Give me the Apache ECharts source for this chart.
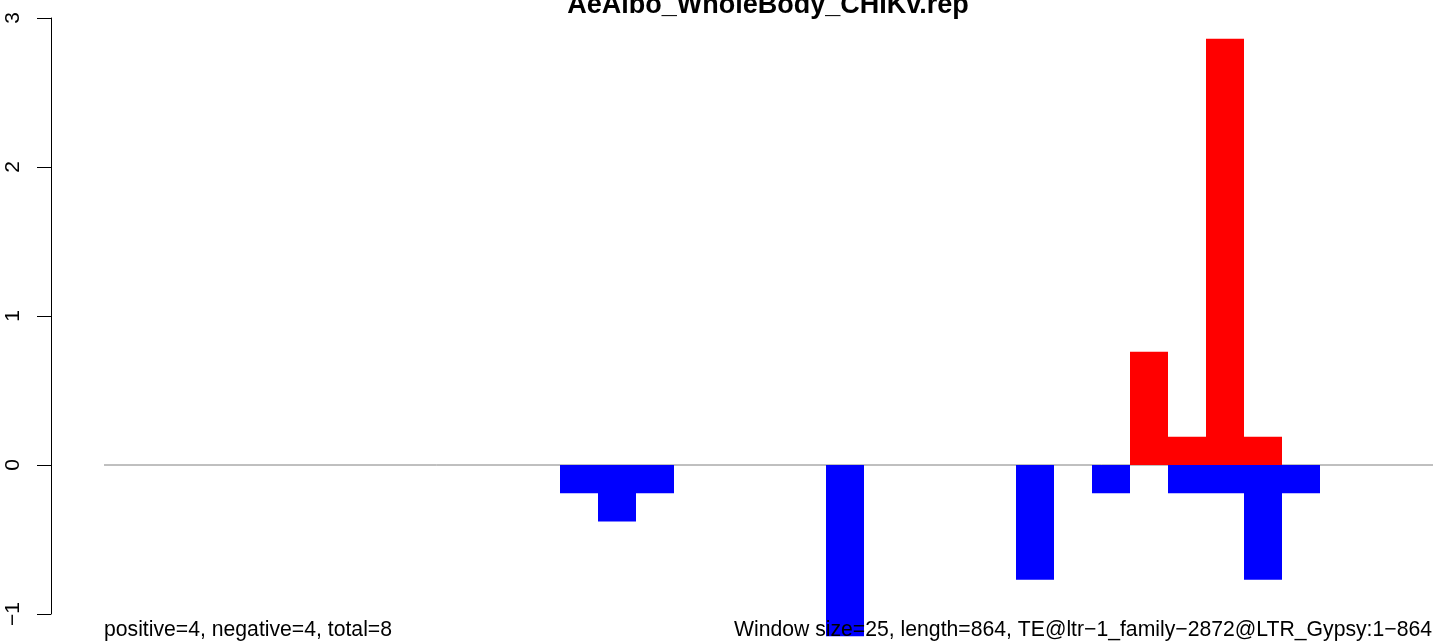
<!DOCTYPE html>
<html><head><meta charset="utf-8">
<script src="https://cdn.jsdelivr.net/npm/echarts@6/dist/echarts.min.js"></script>
<style>html,body{margin:0;padding:0;background:#fff}#c{width:1433px;height:641px}</style>
</head><body><div id="c"></div>
<script>
// window indices (window size 25, length 864 -> 35 windows)
const nWindows = 35;
const posIdx = [27, 28, 29, 30];
const posVal = [0.76, 0.19, 2.86, 0.19];
const negIdx = [12, 13, 14, 19, 24, 26, 28, 29, 30, 31];
const negVal = [-0.19, -0.38, -0.19, -1.15, -0.77, -0.19, -0.19, -0.19, -0.77, -0.19];
const yTicks = [-1, 0, 1, 2, 3];
const titleText = 'AeAlbo_WholeBody_CHIKv.rep';
const leftNote = 'positive=4, negative=4, total=8';
const rightNote = 'Window size=25, length=864, TE@ltr\u22121_family\u22122872@LTR_Gypsy:1\u2212864';

const FONT = '"Liberation Sans", Arial, Helvetica, sans-serif';
const pxPerWin = 38;
const gridLeft = 51;
const xMin = -53 / pxPerWin;
const xMax = xMin + (1433 - gridLeft) / pxPerWin;

function rectSeries(idx, vals, color) {
  return {
    type: 'custom',
    clip: false,
    z: 3,
    data: idx.map((d, k) => [d, vals[k]]),
    renderItem: function (params, api) {
      const i = api.value(0), v = api.value(1);
      const p0 = api.coord([i, 0]);
      const p1 = api.coord([i + 1, v]);
      return {
        type: 'rect',
        shape: { x: p0[0], y: Math.min(p0[1], p1[1]), width: p1[0] - p0[0], height: Math.abs(p1[1] - p0[1]) },
        style: { fill: color }
      };
    }
  };
}

const chart = echarts.init(document.getElementById('c'), null, { renderer: 'canvas' });
chart.setOption({
  animation: false,
  backgroundColor: '#fff',
  grid: { left: gridLeft, right: 0, top: 18, bottom: 27, containLabel: false },
  xAxis: { type: 'value', min: xMin, max: xMax, show: false },
  yAxis: {
    type: 'value', min: yTicks[0], max: yTicks[yTicks.length - 1], interval: 1,
    axisLine: { show: true, onZero: false, lineStyle: { color: '#000', width: 1 } },
    axisTick: { show: true, length: 14, inside: false, lineStyle: { color: '#000', width: 1 } },
    splitLine: { show: false },
    axisLabel: {
      rotate: 90, margin: 27, fontSize: 21, fontFamily: FONT, color: '#000',
      formatter: v => String(v).replace('-', '\u2212')
    }
  },
  graphic: [
    { type: 'text', z: 100, x: 768, y: 19, style: { text: titleText, font: 'bold 27px ' + FONT, fill: '#000', align: 'center', verticalAlign: 'bottom' } },
    { type: 'text', z: 100, x: 104, y: 641, style: { text: leftNote, font: '21.2px ' + FONT, fill: '#000', align: 'left', verticalAlign: 'bottom' } },
    { type: 'text', z: 100, x: 1432, y: 641, style: { text: rightNote, font: '21.2px ' + FONT, fill: '#000', align: 'right', verticalAlign: 'bottom' } }
  ],
  series: [
    {
      type: 'line', z: 1, symbol: 'none', silent: true,
      data: [[0, 0], [nWindows, 0]],
      lineStyle: { color: '#808080', width: 1 }
    },
    rectSeries(negIdx, negVal, '#0000ff'),
    rectSeries(posIdx, posVal, '#ff0000')
  ]
});
</script></body></html>
